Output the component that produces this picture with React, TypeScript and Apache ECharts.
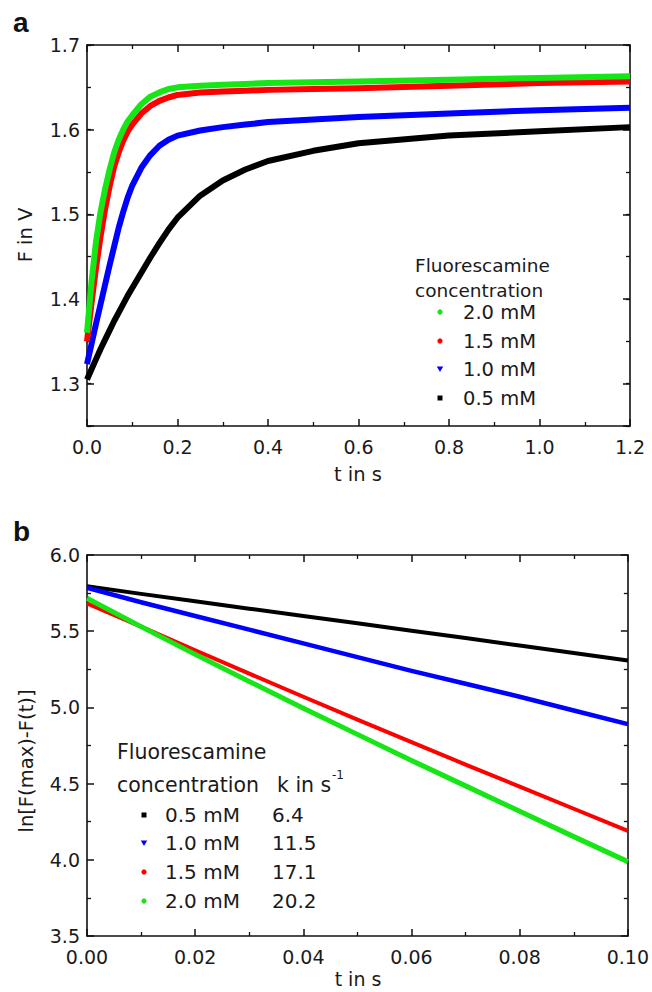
import React, { useEffect, useRef } from "react";
import * as echarts from "echarts";

// ---- Panel a: F(t) in V ----
const timeA = [0, 0.01, 0.02, 0.03, 0.04, 0.05, 0.06, 0.07, 0.08, 0.09, 0.1, 0.12, 0.14, 0.16, 0.18, 0.2, 0.25, 0.3, 0.35, 0.4, 0.5, 0.6, 0.8, 1.0, 1.2];
const fA20 = [1.360, 1.420, 1.468, 1.503, 1.530, 1.553, 1.573, 1.588, 1.600, 1.610, 1.617, 1.630, 1.639, 1.644, 1.648, 1.650, 1.652, 1.653, 1.654, 1.655, 1.656, 1.657, 1.659, 1.661, 1.663];
const fA15 = [1.350, 1.395, 1.437, 1.474, 1.506, 1.533, 1.556, 1.573, 1.587, 1.598, 1.606, 1.619, 1.628, 1.634, 1.638, 1.641, 1.644, 1.645, 1.646, 1.647, 1.648, 1.649, 1.652, 1.655, 1.657];
const fA10 = [1.323, 1.347, 1.371, 1.394, 1.417, 1.440, 1.462, 1.484, 1.503, 1.520, 1.534, 1.555, 1.570, 1.581, 1.588, 1.593, 1.599, 1.603, 1.606, 1.609, 1.612, 1.615, 1.619, 1.623, 1.626];
const fA05 = [1.305, 1.317, 1.329, 1.341, 1.352, 1.363, 1.374, 1.384, 1.394, 1.404, 1.413, 1.431, 1.449, 1.466, 1.482, 1.496, 1.522, 1.540, 1.553, 1.563, 1.575, 1.584, 1.593, 1.598, 1.603];

// ---- Panel b: ln[F(max)-F(t)] ----
const timeB = [0, 0.01, 0.02, 0.03, 0.04, 0.05, 0.06, 0.07, 0.08, 0.09, 0.1];
const lnB05 = [5.795, 5.745, 5.697, 5.648, 5.600, 5.552, 5.503, 5.455, 5.406, 5.357, 5.308];
const lnB10 = [5.785, 5.690, 5.600, 5.510, 5.420, 5.330, 5.240, 5.155, 5.070, 4.980, 4.890];
const lnB15 = [5.683, 5.530, 5.375, 5.222, 5.070, 4.920, 4.772, 4.625, 4.480, 4.335, 4.190];
const lnB20 = [5.716, 5.530, 5.348, 5.170, 4.995, 4.823, 4.652, 4.485, 4.318, 4.152, 3.988];

const concLabels = ["0.5 mM", "1.0 mM", "1.5 mM", "2.0 mM"];
const kValues = ["6.4", "11.5", "17.1", "20.2"];
const seriesColors = ["#000000", "#0000ff", "#ff0000", "#16e616"];
const legendHeader = ["Fluorescamine", "concentration"];
const kHeader = "k in s";

const FONT = "DejaVu Sans";
const TXT = "#1a1a1a";
const AX = "#111111";

function pairs(xs: number[], ys: number[]) {
  return xs.map((x, i) => [x, ys[i]]);
}

function xAxisDef(grid: number, pos: "bottom" | "top", min: number, max: number, interval: number, digits: number) {
  return {
    type: "value",
    gridIndex: grid,
    position: pos,
    min,
    max,
    interval,
    axisLine: { show: true, onZero: false, lineStyle: { color: AX, width: 1.6 } },
    axisTick: { show: true, inside: true, length: 7, lineStyle: { color: AX, width: 1.5 } },
    minorTick: { show: true, splitNumber: 2, length: 4, lineStyle: { color: AX, width: 1.3 } },
    axisLabel: {
      show: pos === "bottom",
      margin: 11,
      fontSize: 19,
      fontFamily: FONT,
      color: TXT,
      formatter: (v: number) => v.toFixed(digits),
    },
    splitLine: { show: false },
    minorSplitLine: { show: false },
  };
}

export default function App() {
  const ref = useRef<HTMLDivElement>(null);

  useEffect(() => {
    document.body.style.margin = "0";
    const chart = echarts.init(ref.current!, null, { renderer: "svg" });

    const yA = (pos: "left" | "right", major: boolean) => ({
      type: "value",
      gridIndex: 0,
      position: pos,
      min: 1.25,
      max: 1.7,
      ...(major ? { splitNumber: 5 } : { interval: 0.05 }),
      axisLine: { show: major, onZero: false, lineStyle: { color: AX, width: 1.6 } },
      axisTick: { show: true, inside: true, length: major ? 7 : 4, lineStyle: { color: AX, width: major ? 1.5 : 1.3 } },
      axisLabel: {
        show: major && pos === "left",
        margin: 7,
        fontSize: 19,
        fontFamily: FONT,
        color: TXT,
        formatter: (v: number) => (Math.abs(v * 10 - Math.round(v * 10)) < 1e-6 ? v.toFixed(1) : ""),
      },
      splitLine: { show: false },
    });

    const yB = (pos: "left" | "right") => ({
      type: "value",
      gridIndex: 1,
      position: pos,
      min: 3.5,
      max: 6.0,
      interval: 0.5,
      axisLine: { show: true, onZero: false, lineStyle: { color: AX, width: 1.6 } },
      axisTick: { show: true, inside: true, length: 7, lineStyle: { color: AX, width: 1.5 } },
      minorTick: { show: true, splitNumber: 2, length: 4, lineStyle: { color: AX, width: 1.3 } },
      axisLabel: {
        show: pos === "left",
        margin: 7,
        fontSize: 19,
        fontFamily: FONT,
        color: TXT,
        formatter: (v: number) => v.toFixed(1),
      },
      splitLine: { show: false },
      minorSplitLine: { show: false },
    });

    const lineA = (data: number[], color: string) => ({
      type: "line",
      xAxisIndex: 0,
      yAxisIndex: 0,
      data: pairs(timeA, data),
      showSymbol: false,
      smooth: false,
      lineStyle: { color, width: 6, join: "round", cap: "butt" },
      z: 2,
    });
    const lineB = (data: number[], color: string, w: number) => ({
      type: "line",
      xAxisIndex: 2,
      yAxisIndex: 4,
      data: pairs(timeB, data),
      showSymbol: false,
      smooth: false,
      lineStyle: { color, width: w, join: "round" },
      z: 2,
    });

    const txt = (text: string, x: number, y: number, size: number, extra: any = {}) => ({
      type: "text",
      x,
      y,
      z: 10,
      ...extra,
      style: {
        text,
        fontSize: size,
        fontFamily: FONT,
        fill: TXT,
        align: "left",
        verticalAlign: "middle",
        ...(extra.style || {}),
      },
    });

    const symbol = (i: number, x: number, y: number) => {
      const c = seriesColors[i];
      if (i === 0) return { type: "rect", z: 10, shape: { x: x - 2.5, y: y - 2.5, width: 5, height: 5 }, style: { fill: c } };
      if (i === 1)
        return {
          type: "polygon",
          z: 10,
          shape: { points: [[x - 3.2, y - 2.5], [x + 3.2, y - 2.5], [x, y + 3]] },
          style: { fill: c },
        };
      return { type: "circle", z: 10, shape: { cx: x, cy: y, r: 2.6 }, style: { fill: c } };
    };

    // legend a (order 2.0, 1.5, 1.0, 0.5)
    const legAy = [398, 369, 341, 312];
    const legendA: any[] = [
      txt(legendHeader[0], 415, 265, 18.5),
      txt(legendHeader[1], 415, 290, 18.5),
    ];
    concLabels.forEach((lab, i) => {
      legendA.push(symbol(i, 440, legAy[i]));
      legendA.push(txt(lab, 463, legAy[i], 19.5));
    });

    // legend b (order 0.5, 1.0, 1.5, 2.0)
    const legBy = [815, 843, 872, 901];
    const legendB: any[] = [
      txt(legendHeader[0], 117, 752, 20.5),
      txt(legendHeader[1], 117, 785, 20.5),
      txt(kHeader, 277, 785, 20.5),
      txt("-1", 332, 775, 12),
    ];
    concLabels.forEach((lab, i) => {
      legendB.push(symbol(i, 144, legBy[i]));
      legendB.push(txt(lab, 165, legBy[i], 20));
      legendB.push(txt(kValues[i], 272, legBy[i], 20));
    });

    const option: any = {
      animation: false,
      backgroundColor: "#ffffff",
      grid: [
        { left: 87, top: 45, width: 543, height: 381, containLabel: false },
        { left: 87, top: 555, width: 543, height: 381, containLabel: false },
      ],
      xAxis: [
        xAxisDef(0, "bottom", 0, 1.2, 0.2, 1),
        xAxisDef(0, "top", 0, 1.2, 0.2, 1),
        xAxisDef(1, "bottom", 0, 0.1, 0.02, 2),
        xAxisDef(1, "top", 0, 0.1, 0.02, 2),
      ],
      yAxis: [yA("left", true), yA("left", false), yA("right", true), yA("right", false), yB("left"), yB("right")],
      series: [
        lineA(fA05, seriesColors[0]),
        lineA(fA10, seriesColors[1]),
        lineA(fA15, seriesColors[2]),
        lineA(fA20, seriesColors[3]),
        lineB(lnB05, seriesColors[0], 4),
        lineB(lnB10, seriesColors[1], 4.5),
        lineB(lnB15, seriesColors[2], 4),
        lineB(lnB20, seriesColors[3], 5),
      ],
      graphic: [
        {
          type: "text",
          x: 13,
          y: 22,
          style: { text: "a", fontSize: 28, fontWeight: "bold", fontFamily: "Liberation Sans", fill: "#111", align: "left", verticalAlign: "middle" },
        },
        {
          type: "text",
          x: 13,
          y: 531,
          style: { text: "b", fontSize: 28, fontWeight: "bold", fontFamily: "Liberation Sans", fill: "#111", align: "left", verticalAlign: "middle" },
        },
        txt("t in s", 358, 474, 19.5, { style: { align: "center" } }),
        txt("t in s", 358, 979, 19, { style: { align: "center" } }),
        txt("F in V", 25, 235, 19.5, { rotation: Math.PI / 2, style: { align: "center" } }),
        txt("ln[F(max)-F(t)]", 26, 761, 19.5, { rotation: Math.PI / 2, style: { align: "center" } }),
        ...legendA,
        ...legendB,
      ],
    };

    chart.setOption(option);
    return () => chart.dispose();
  }, []);

  return <div ref={ref} style={{ width: 652, height: 992 }} />;
}
